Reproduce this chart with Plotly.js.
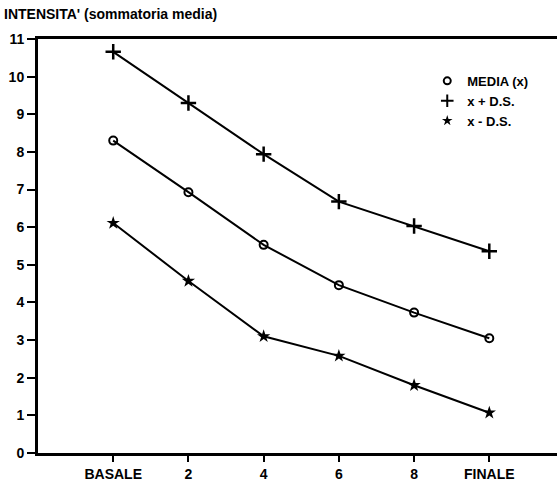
<!DOCTYPE html>
<html>
<head>
<meta charset="utf-8">
<script src="https://cdn.plot.ly/plotly-3.0.1.min.js"></script>
<style>html,body{margin:0;padding:0;background:#fff;}#chart{width:557px;height:481px;}</style>
</head>
<body>
<div id="chart"></div>
<script>
const categories = [0, 2, 4, 6, 8, 10];
const tickLabels = ["BASALE", "2", "4", "6", "8", "FINALE"];
const media = [8.3, 6.93, 5.53, 4.46, 3.73, 3.05];
const mediaPiuDS = [10.66, 9.3, 7.94, 6.68, 6.03, 5.36];
const mediaMenoDS = [6.11, 4.57, 3.1, 2.58, 1.8, 1.07];
const seriesNames = ["MEDIA (x)", "x + D.S.", "x - D.S."];

const F = "Liberation Sans, Arial, sans-serif";
const lineStyle = {color: "#000", width: 2};

const traces = [
  {x: categories, y: mediaPiuDS, mode: "lines+markers", showlegend: false,
   line: lineStyle, marker: {symbol: "cross-thin", size: 11, color: "#000", line: {color: "#000", width: 2.5}}},
  {x: categories, y: media, mode: "lines+markers", showlegend: false,
   line: lineStyle, marker: {symbol: "circle-open", size: 8, color: "#000", line: {color: "#000", width: 2}}},
  {x: categories, y: mediaMenoDS, mode: "lines+markers", showlegend: false,
   line: lineStyle, marker: {symbol: "star", size: 10, color: "#000", line: {width: 0}}},
  {x: [null], y: [null], mode: "markers", name: seriesNames[0],
   marker: {symbol: "circle-open", size: 7, color: "#000", line: {color: "#000", width: 2}}},
  {x: [null], y: [null], mode: "markers", name: seriesNames[1],
   marker: {symbol: "cross-thin", size: 9, color: "#000", line: {color: "#000", width: 2}}},
  {x: [null], y: [null], mode: "markers", name: seriesNames[2],
   marker: {symbol: "star", size: 8, color: "#000", line: {width: 0}}}
];

const layout = {
  width: 557, height: 481,
  margin: {l: 38, r: 0, t: 39, b: 28, pad: 0},
  paper_bgcolor: "#fff", plot_bgcolor: "#fff",
  font: {family: F, color: "#000"},
  xaxis: {
    range: [-2, 11.8], tickvals: categories, ticktext: tickLabels,
    showgrid: false, zeroline: false, showline: true, mirror: true,
    linecolor: "#000", linewidth: 3, ticks: "outside", ticklen: 6, tickwidth: 2,
    tickcolor: "#000", tickfont: {family: F, size: 14, color: "#000", weight: "bold"}
  },
  yaxis: {
    range: [0, 11], dtick: 1, showgrid: false, zeroline: false, showline: true,
    linecolor: "#000", linewidth: 3, ticks: "outside", ticklen: 8, tickwidth: 2,
    tickcolor: "#000", tickfont: {family: F, size: 14, color: "#000", weight: "bold"}
  },
  showlegend: true,
  legend: {x: 0.75, y: 0.935, xanchor: "left", yanchor: "top", bgcolor: "rgba(0,0,0,0)",
    font: {family: F, size: 13, color: "#000", weight: "bold"}, itemwidth: 30, tracegroupgap: 0},
  annotations: [{
    text: "INTENSITA' (sommatoria media)", xref: "paper", yref: "paper",
    x: -0.07, y: 1, xanchor: "left", yanchor: "bottom", yshift: 15, showarrow: false,
    font: {family: F, size: 14, color: "#000", weight: "bold"}
  }]
};

Plotly.newPlot("chart", traces, layout, {displayModeBar: false, staticPlot: true});
</script>
</body>
</html>
